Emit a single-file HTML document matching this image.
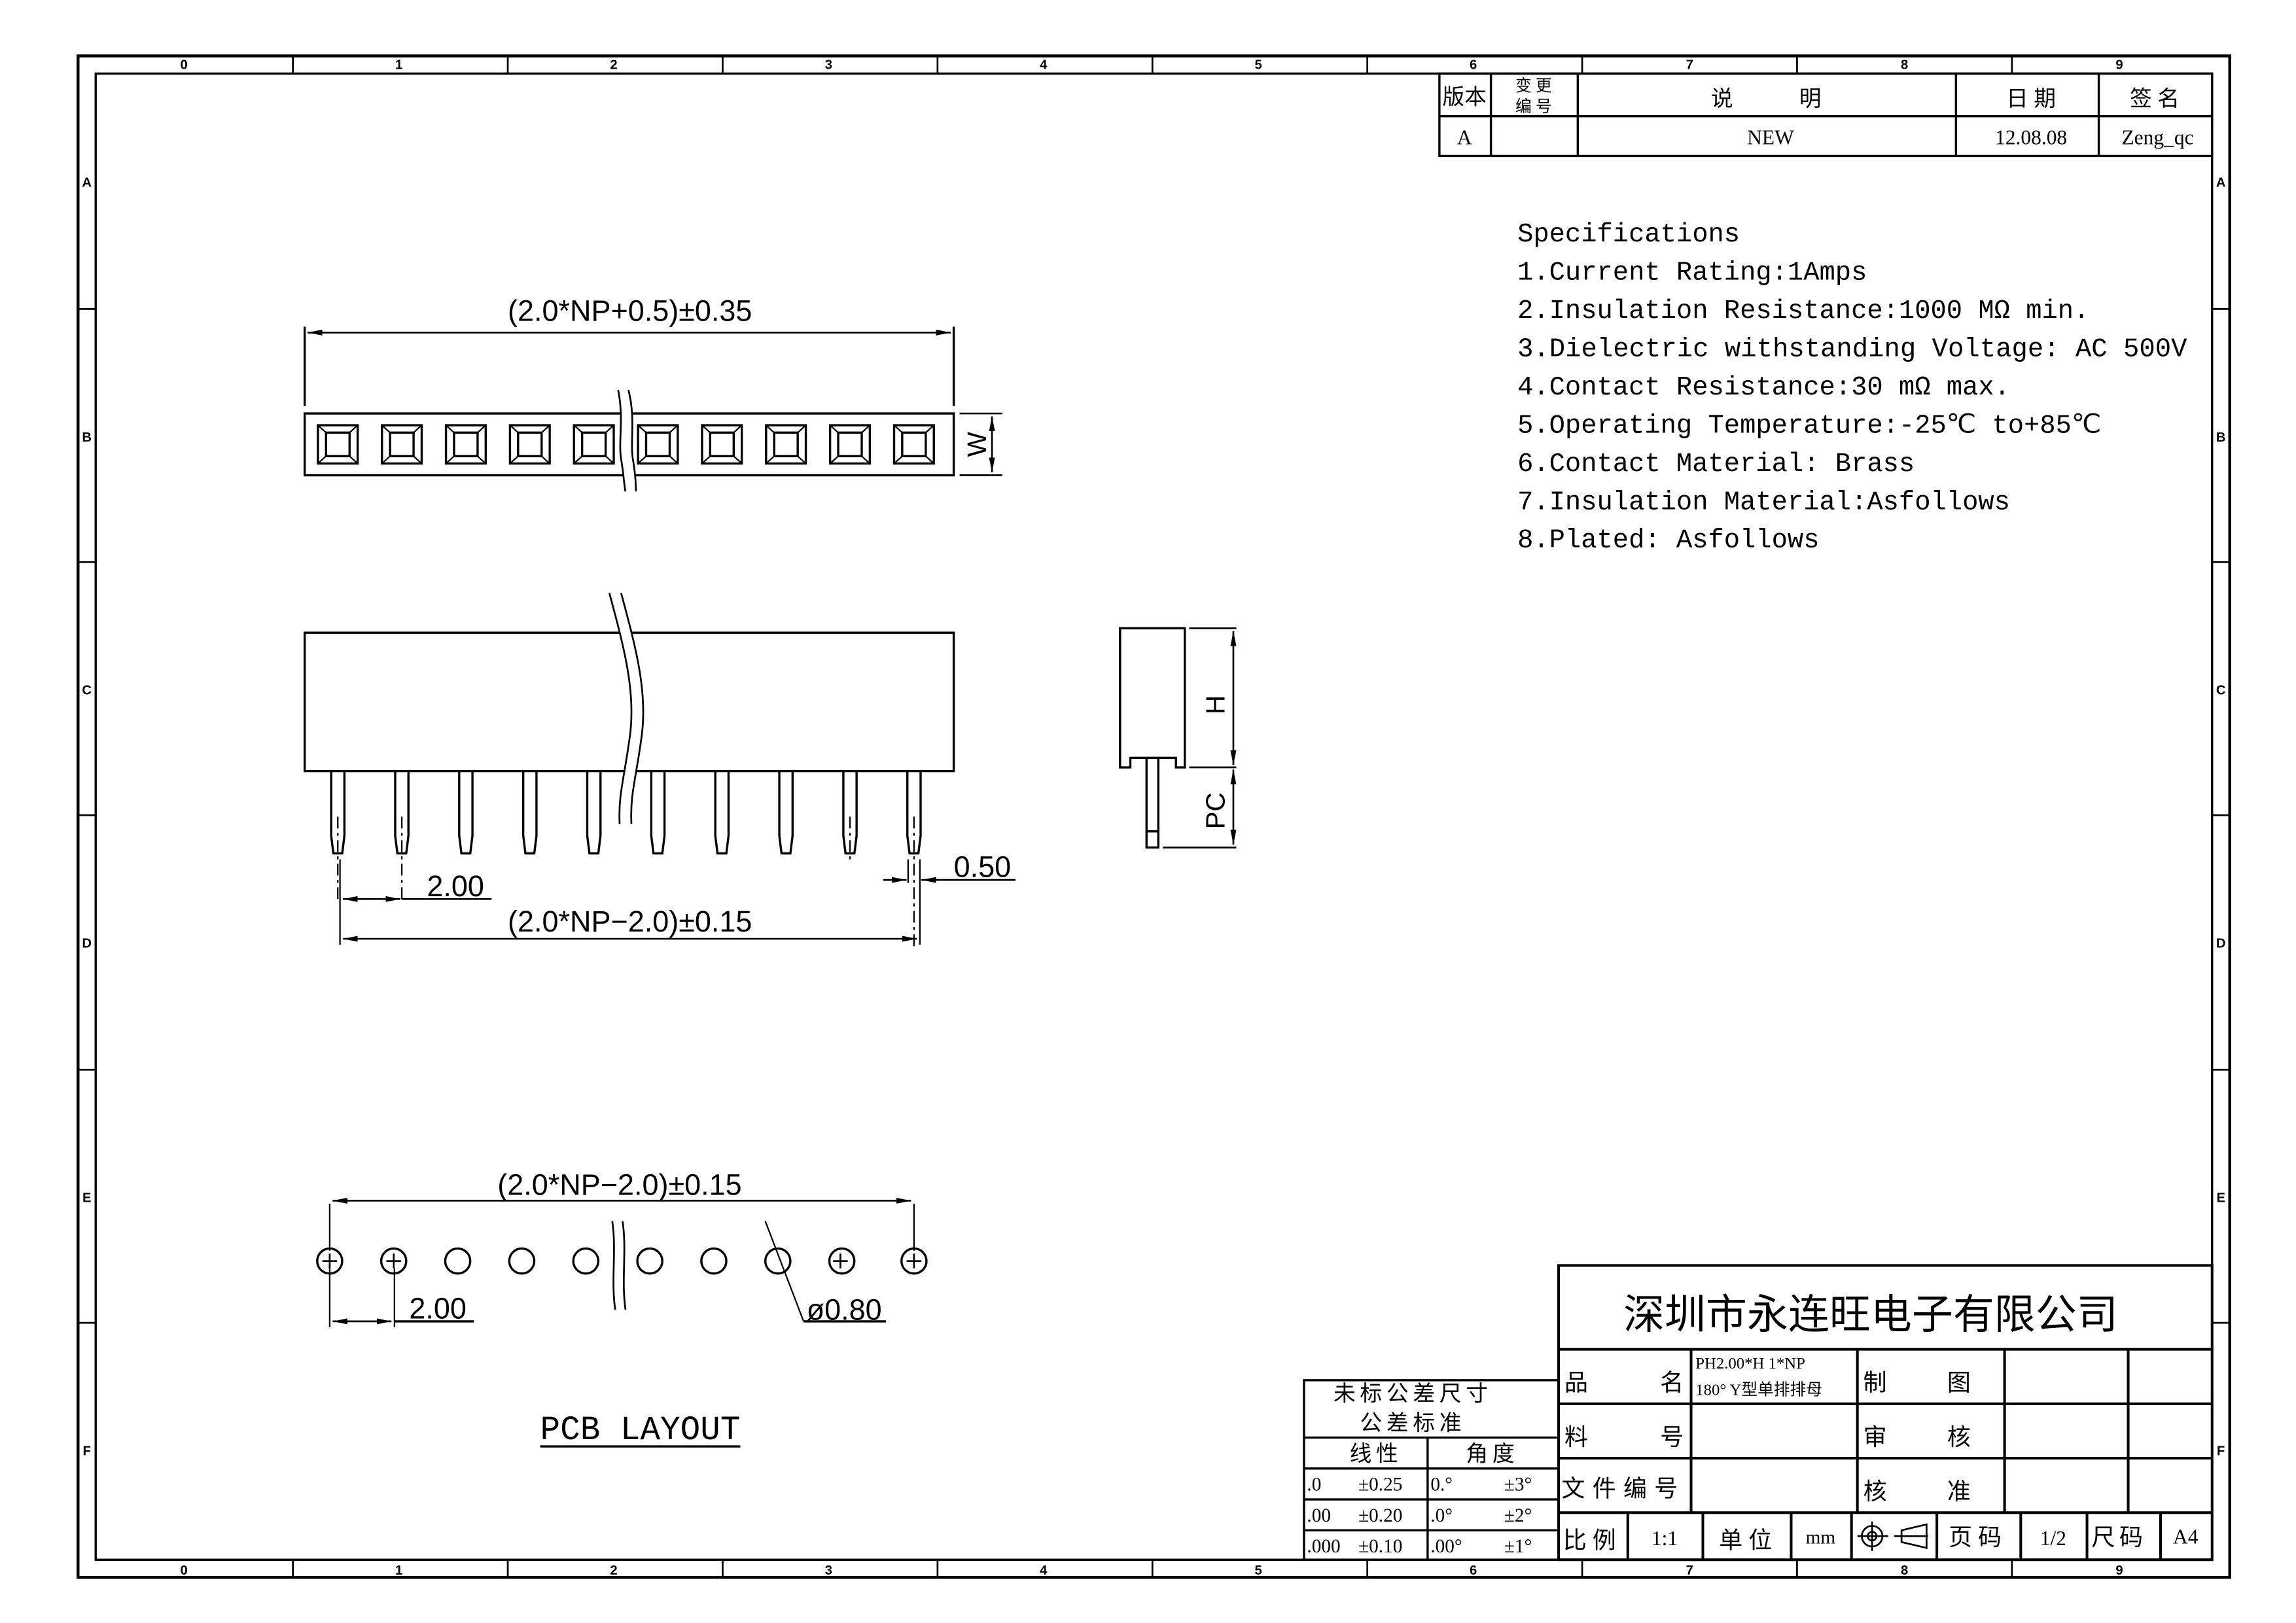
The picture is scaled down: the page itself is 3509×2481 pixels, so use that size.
<!DOCTYPE html>
<html><head><meta charset="utf-8"><style>
html,body{margin:0;padding:0;background:#fff}
svg{display:block}
.s{font-family:"Liberation Sans",sans-serif}
.m{font-family:"Liberation Mono",monospace}
.r{font-family:"Liberation Serif","Noto Serif CJK SC",serif}
.c{font-family:"Liberation Serif","Noto Sans CJK SC",sans-serif}
</style></head><body>
<svg width="3509" height="2481" viewBox="0 0 1560 1103" xmlns="http://www.w3.org/2000/svg">
<defs>
<marker id="a" viewBox="0 0 10 4" refX="10" refY="2" markerWidth="10" markerHeight="4" orient="auto-start-reverse" markerUnits="userSpaceOnUse"><path d="M0,0 L10,2 L0,4 z" fill="#000"/></marker>
</defs>
<rect width="1560" height="1103" fill="#fff"/>
<g fill="none" stroke="#000">
<rect x="53" y="38" width="1462" height="1034" stroke-width="2"/>
<rect x="65" y="50" width="1438" height="1010" stroke-width="1.5"/>
<g stroke-width="1.2">
<path d="M199,38v12M345,38v12M491,38v12M637,38v12M783,38v12M929,38v12M1075,38v12M1221,38v12M1367,38v12"/>
<path d="M199,1060v12M345,1060v12M491,1060v12M637,1060v12M783,1060v12M929,1060v12M1075,1060v12M1221,1060v12M1367,1060v12"/>
<path d="M53,210h12M53,382h12M53,554h12M53,727h12M53,899h12"/>
<path d="M1503,210h12M1503,382h12M1503,554h12M1503,727h12M1503,899h12"/>
</g>
</g>
<g class="s" font-size="9" font-weight="bold" text-anchor="middle">
<text x="125" y="47">0</text><text x="271" y="47">1</text><text x="417" y="47">2</text><text x="563" y="47">3</text><text x="709" y="47">4</text><text x="855" y="47">5</text><text x="1001" y="47">6</text><text x="1148" y="47">7</text><text x="1294" y="47">8</text><text x="1440" y="47">9</text>
<text x="125" y="1070">0</text><text x="271" y="1070">1</text><text x="417" y="1070">2</text><text x="563" y="1070">3</text><text x="709" y="1070">4</text><text x="855" y="1070">5</text><text x="1001" y="1070">6</text><text x="1148" y="1070">7</text><text x="1294" y="1070">8</text><text x="1440" y="1070">9</text>
<text x="59" y="127">A</text><text x="59" y="300">B</text><text x="59" y="472">C</text><text x="59" y="644">D</text><text x="59" y="817">E</text><text x="59" y="989">F</text>
<text x="1509" y="127">A</text><text x="1509" y="300">B</text><text x="1509" y="472">C</text><text x="1509" y="644">D</text><text x="1509" y="817">E</text><text x="1509" y="989">F</text>
</g>

<!-- revision table -->
<g fill="none" stroke="#000" stroke-width="1.5">
<rect x="978" y="50" width="525" height="56"/>
<path d="M978,79H1503M1013,50V106M1072,50V106M1329,50V106M1426,50V106"/>
</g>
<g class="c" font-size="15" text-anchor="middle">
<text x="995" y="71">版本</text>
<text x="1042" y="62" font-size="11">变 更</text><text x="1042" y="76" font-size="11">编 号</text>
<text x="1200" y="72">说　　　明</text>
<text x="1380" y="72">日 期</text>
<text x="1464" y="72">签 名</text>
<text x="995" y="98" font-size="14">A</text>
<text x="1203" y="98" font-size="14">NEW</text>
<text x="1380" y="98" font-size="14">12.08.08</text>
<text x="1466" y="98" font-size="14">Zeng_qc</text>
</g>

<!-- specs -->
<g class="m" font-size="18">
<text x="1031" y="164">Specifications</text>
<text x="1031" y="190">1.Current Rating:1Amps</text>
<text x="1031" y="216">2.Insulation Resistance:1000 MΩ min.</text>
<text x="1031" y="242" textLength="455" lengthAdjust="spacingAndGlyphs">3.Dielectric withstanding Voltage: AC 500V</text>
<text x="1031" y="268">4.Contact Resistance:30 mΩ max.</text>
<text x="1031" y="294">5.Operating Temperature:-25℃ to+85℃</text>
<text x="1031" y="320">6.Contact Material:  Brass</text>
<text x="1031" y="346">7.Insulation Material:Asfollows</text>
<text x="1031" y="372">8.Plated: Asfollows</text>
</g>

<!-- top view -->
<g fill="none" stroke="#000" stroke-width="1.5">
<path d="M207,222V276M648,222V276"/>
<path d="M209,226H646" stroke-width="1.2" marker-start="url(#a)" marker-end="url(#a)"/>
<rect x="207" y="281" width="441" height="42"/>
<g id="sq">
<rect x="216" y="289" width="27" height="26"/>
<rect x="221.5" y="294" width="16" height="16"/>
<path d="M216,289L221.5,294M243,289L237.5,294M216,315L221.5,310M243,315L237.5,310" stroke-width="1"/>
</g>
<use href="#sq" x="43.5"/><use href="#sq" x="87"/><use href="#sq" x="130.5"/><use href="#sq" x="174"/>
<use href="#sq" x="217.5"/><use href="#sq" x="261"/><use href="#sq" x="304.5"/><use href="#sq" x="348"/><use href="#sq" x="391.5"/>
<path d="M652,281H681M652,323H681" stroke-width="1.2"/>
<path d="M674,283V321" stroke-width="1.2" marker-start="url(#a)" marker-end="url(#a)"/>
</g>
<path d="M420,265C424,285 420,300 422,312C424,324 424,330 425,334L432,334C432,330 432,324 430,312C428,300 432,285 427,265Z" fill="#fff" stroke="none"/>
<path d="M420,265C424,285 420,300 422,312C424,324 424,330 425,334M427,265C432,285 428,300 430,312C432,324 432,330 432,334" fill="none" stroke="#000" stroke-width="1.2"/>
<text class="s" x="428" y="218" font-size="20" text-anchor="middle">(2.0*NP+0.5)±0.35</text>
<text class="s" x="0" y="0" font-size="18" text-anchor="middle" transform="translate(670,302) rotate(-90)">W</text>

<!-- front view -->
<g fill="none" stroke="#000" stroke-width="1.5">
<rect x="207" y="430" width="441" height="94" fill="#fff"/>
<g id="pin">
<path d="M225,524V568L226.5,580H232.5L234,568V524"/>
</g>
<use href="#pin" x="43.5"/><use href="#pin" x="87"/><use href="#pin" x="130.5"/><use href="#pin" x="174"/>
<use href="#pin" x="217.5"/><use href="#pin" x="261"/><use href="#pin" x="304.5"/><use href="#pin" x="348"/><use href="#pin" x="391.5"/>
<g stroke-width="1" stroke-dasharray="8,3,2,3">
<path d="M229.5,555V612M273,555V612M577.5,555V585M621,555V645"/>
</g>
<path d="M231,584V642M625,584V642M617,584V600" stroke-width="1"/>
<path d="M233,611H272" stroke-width="1.2" marker-start="url(#a)" marker-end="url(#a)"/>
<path d="M273,611H334" stroke-width="1.2"/>
<path d="M233,638H623" stroke-width="1.2" marker-start="url(#a)" marker-end="url(#a)"/>
<path d="M600,598H616" stroke-width="1.2" marker-end="url(#a)"/>
<path d="M690,598H626" stroke-width="1.2" marker-end="url(#a)"/>
</g>
<path d="M414,403C424,440 432,470 428,500C424,530 420,540 421,560L429,560C428,540 432,530 436,500C440,470 432,440 422,403Z" fill="#fff" stroke="none"/>
<path d="M414,403C424,440 432,470 428,500C424,530 420,540 421,560M422,403C432,440 440,470 436,500C432,530 428,540 429,560" fill="none" stroke="#000" stroke-width="1.2"/>
<g class="s" font-size="20">
<text x="290" y="609">2.00</text>
<text x="428" y="633" text-anchor="middle">(2.0*NP−2.0)±0.15</text>
<text x="648" y="596">0.50</text>
</g>

<!-- side view -->
<g fill="none" stroke="#000" stroke-width="1.5">
<path d="M761,427H805V521.5H799V515H768V521.5H761Z"/>
<path d="M779,515V576H787V515M779,565H787"/>
<path d="M808,427H840M808,521.5H840M790,576H840" stroke-width="1.2"/>
<path d="M838,429V520" stroke-width="1.2" marker-start="url(#a)" marker-end="url(#a)"/>
<path d="M838,523V574" stroke-width="1.2" marker-start="url(#a)" marker-end="url(#a)"/>
</g>
<g class="s" font-size="18" text-anchor="middle">
<text transform="translate(832,479) rotate(-90)">H</text>
<text transform="translate(832,551) rotate(-90)">PC</text>
</g>

<!-- PCB layout -->
<g fill="none" stroke="#000" stroke-width="1.5">
<path d="M224,818V850M621,818V850M224,862V902M268,862V902" stroke-width="1"/>
<path d="M226,816H619" stroke-width="1.2" marker-start="url(#a)" marker-end="url(#a)"/>
<path d="M226,898H266" stroke-width="1.2" marker-start="url(#a)" marker-end="url(#a)"/>
<path d="M268,898H322M546,898H602" stroke-width="1.5"/>
<g id="h"><circle cx="224" cy="857" r="8.5"/></g>
<use href="#h" x="43.5"/><use href="#h" x="87"/><use href="#h" x="130.5"/><use href="#h" x="174"/>
<use href="#h" x="217.5"/><use href="#h" x="261"/><use href="#h" x="304.5"/><use href="#h" x="348"/><use href="#h" x="397"/>
<path d="M219,857h10M224,852v10M262.5,857h10M267.5,852v10M566,857h10M571,852v10M616,857h10M621,852v10" stroke-width="1.2"/>
<path d="M520,830L546,898" stroke-width="1"/>
<path d="M416,830C419,850 415,870 418,890M423,830C426,850 422,870 425,890" stroke-width="1.2"/>
</g>
<g class="s" font-size="20">
<text x="421" y="812" text-anchor="middle">(2.0*NP−2.0)±0.15</text>
<text x="278" y="896">2.00</text>
<text x="548" y="897">ø0.80</text>
</g>
<text class="m" x="435" y="978" font-size="23" text-anchor="middle" textLength="136" lengthAdjust="spacingAndGlyphs">PCB LAYOUT</text>
<path d="M367,983H503" stroke="#000" stroke-width="1.5"/>

<!-- tolerance table -->
<g fill="none" stroke="#000" stroke-width="1.5">
<rect x="886" y="938" width="173" height="122"/>
<path d="M886,977H1059M886,998H1059M886,1019H1059M886,1040H1059M970,977V1060"/>
</g>
<g class="c" font-size="15">
<text x="960" y="952" text-anchor="middle" letter-spacing="3">未标公差尺寸</text>
<text x="960" y="972" text-anchor="middle" letter-spacing="3">公差标准</text>
<text x="935" y="993" text-anchor="middle" letter-spacing="3">线性</text>
<text x="1014" y="993" text-anchor="middle" letter-spacing="3">角度</text>
<g font-size="13" class="r">
<text x="888" y="1013">.0</text><text x="923" y="1013">±0.25</text><text x="972" y="1013">0.°</text><text x="1022" y="1013">±3°</text>
<text x="888" y="1034">.00</text><text x="923" y="1034">±0.20</text><text x="972" y="1034">.0°</text><text x="1022" y="1034">±2°</text>
<text x="888" y="1055">.000</text><text x="923" y="1055">±0.10</text><text x="972" y="1055">.00°</text><text x="1022" y="1055">±1°</text>
</g>
</g>

<!-- title block -->
<g fill="none" stroke="#000" stroke-width="1.8">
<rect x="1059" y="860" width="444" height="200"/>
<path d="M1059,917H1503M1059,954H1503M1059,991H1503M1059,1028H1503"/>
<path d="M1149,917V1028M1262,917V1028M1362,917V1028M1446,917V1028"/>
<path d="M1106,1028V1060M1157,1028V1060M1217,1028V1060M1258,1028V1060M1316,1028V1060M1373,1028V1060M1418,1028V1060M1468,1028V1060"/>
<circle cx="1272" cy="1044" r="7" stroke-width="1.2"/><circle cx="1272" cy="1044" r="3" stroke-width="1.2"/>
<path d="M1262,1044H1283M1272,1034V1054M1287,1044H1310M1292,1040L1309,1036V1052L1292,1048Z" stroke-width="1.2"/>
</g>
<text class="c" x="1271" y="903" font-size="28" text-anchor="middle">深圳市永连旺电子有限公司</text>
<g class="c" font-size="16">
<text x="1063" y="945">品</text><text x="1128" y="945">名</text>
<text x="1063" y="982">料</text><text x="1128" y="982">号</text>
<text x="1061" y="1017" letter-spacing="5">文件编号</text>
<text x="1266" y="945">制</text><text x="1323" y="945">图</text>
<text x="1266" y="982">审</text><text x="1323" y="982">核</text>
<text x="1266" y="1019">核</text><text x="1323" y="1019">准</text>
<text x="1062" y="1052" letter-spacing="4">比例</text>
<text x="1131" y="1050" text-anchor="middle" font-size="14" class="r">1:1</text>
<text x="1168" y="1052" letter-spacing="4">单位</text>
<text x="1237" y="1049" text-anchor="middle" font-size="13" class="r">mm</text>
<text x="1324" y="1050" letter-spacing="4">页码</text>
<text x="1395" y="1050" text-anchor="middle" font-size="14" class="r">1/2</text>
<text x="1421" y="1050" letter-spacing="3">尺码</text>
<text x="1485" y="1049" text-anchor="middle" font-size="14" class="r">A4</text>
<text x="1152" y="930" font-size="11">PH2.00*H 1*NP</text>
<text x="1152" y="948" font-size="11">180° Y型单排排母</text>
</g>
</svg>
</body></html>
